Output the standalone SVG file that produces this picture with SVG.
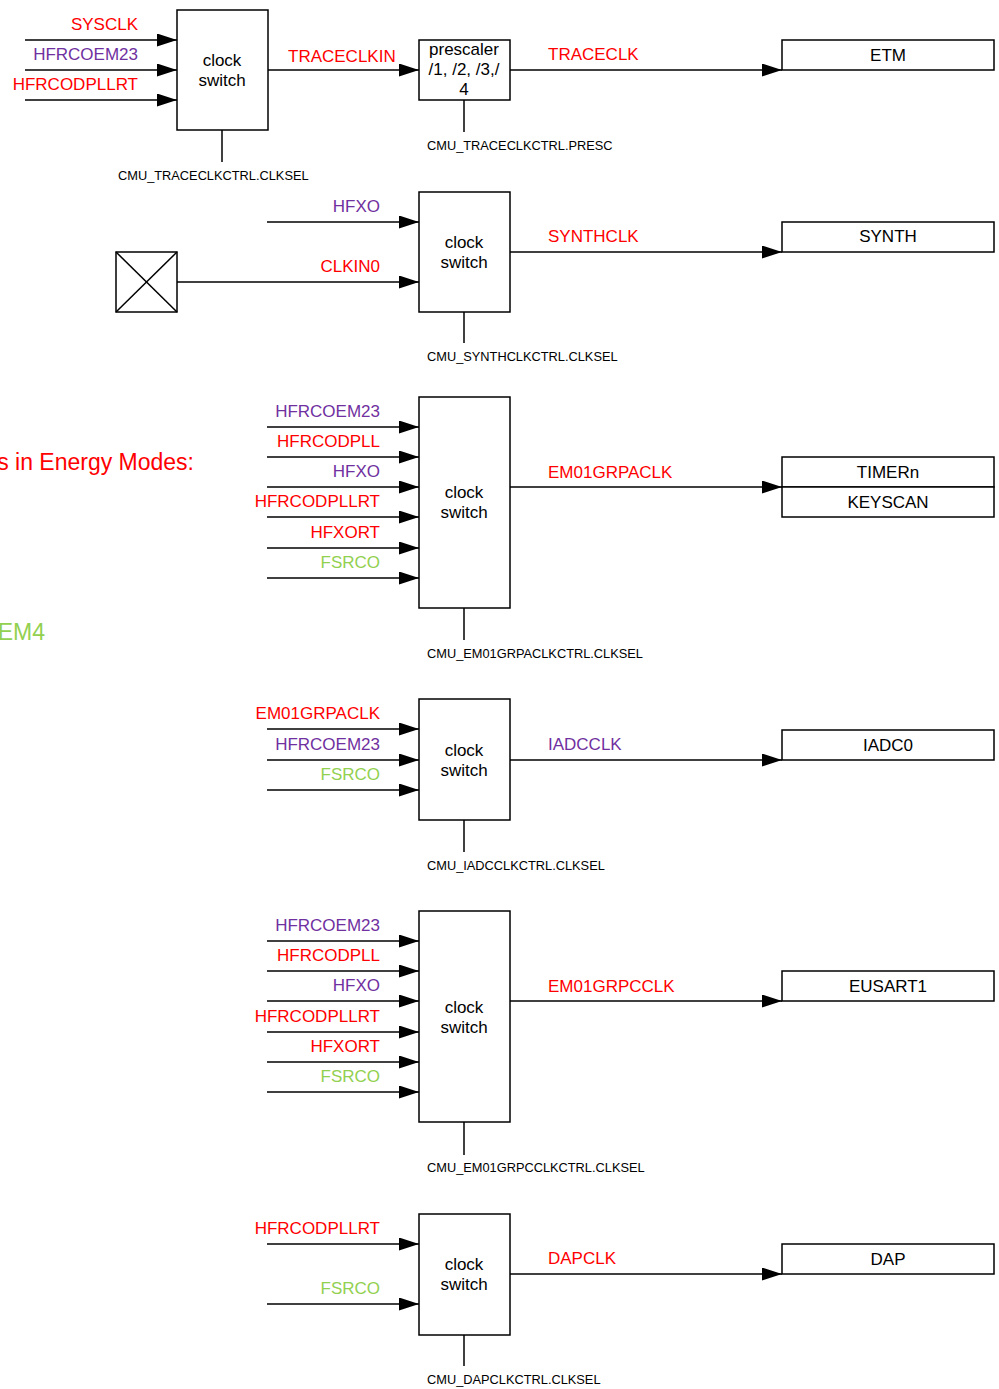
<svg xmlns="http://www.w3.org/2000/svg" width="999" height="1389" viewBox="0 0 999 1389">
<style>
text{font-family:"Liberation Sans",Arial,sans-serif;}
.box{fill:#fff;stroke:#000;stroke-width:1.5;}
.ln{stroke:#000;stroke-width:1.5;fill:none;}
.ar{marker-end:url(#ah);}
.in{font-size:17px;text-anchor:end;}
.out{font-size:17px;}
.ctr{font-size:17px;text-anchor:middle;fill:#000;}
.sm{font-size:12.8px;fill:#000;}
.big{font-size:23px;}
.r{fill:#FF0000;}
.p{fill:#7030A0;}
.g{fill:#92D050;}
</style>
<defs>
<marker id="ah" markerUnits="userSpaceOnUse" markerWidth="20" markerHeight="13" viewBox="0 0 20 13" refX="20" refY="6.5" orient="auto">
<path d="M0,0 L20,6.5 L0,13 Z" fill="#000"/>
</marker>
</defs>
<rect width="999" height="1389" fill="#fff"/>

<g id="legend">
<text class="big r" x="194" y="470" text-anchor="end">s in Energy Modes:</text>
<text class="big g" x="45" y="640" text-anchor="end">EM4</text>
</g>

<g id="connectors">
<!-- section 1 -->
<line class="ln ar" x1="25" y1="40" x2="177" y2="40"/>
<line class="ln ar" x1="25" y1="70" x2="177" y2="70"/>
<line class="ln ar" x1="25" y1="100" x2="177" y2="100"/>
<line class="ln ar" x1="268" y1="70" x2="419" y2="70"/>
<line class="ln ar" x1="510" y1="70" x2="782" y2="70"/>
<line class="ln" x1="222" y1="130" x2="222" y2="162"/>
<line class="ln" x1="464" y1="100" x2="464" y2="132"/>
<!-- section 2 -->
<line class="ln ar" x1="267" y1="222" x2="419" y2="222"/>
<line class="ln ar" x1="177" y1="282" x2="419" y2="282"/>
<line class="ln ar" x1="510" y1="252" x2="782" y2="252"/>
<line class="ln" x1="464" y1="312" x2="464" y2="343"/>
<!-- section 3 -->
<line class="ln ar" x1="267" y1="427" x2="419" y2="427"/>
<line class="ln ar" x1="267" y1="457" x2="419" y2="457"/>
<line class="ln ar" x1="267" y1="487" x2="419" y2="487"/>
<line class="ln ar" x1="267" y1="517" x2="419" y2="517"/>
<line class="ln ar" x1="267" y1="548" x2="419" y2="548"/>
<line class="ln ar" x1="267" y1="578" x2="419" y2="578"/>
<line class="ln ar" x1="510" y1="487" x2="782" y2="487"/>
<line class="ln" x1="464" y1="608" x2="464" y2="640"/>
<!-- section 4 -->
<line class="ln ar" x1="267" y1="729" x2="419" y2="729"/>
<line class="ln ar" x1="267" y1="760" x2="419" y2="760"/>
<line class="ln ar" x1="267" y1="790" x2="419" y2="790"/>
<line class="ln ar" x1="510" y1="760" x2="782" y2="760"/>
<line class="ln" x1="464" y1="820" x2="464" y2="852"/>
<!-- section 5 -->
<line class="ln ar" x1="267" y1="941" x2="419" y2="941"/>
<line class="ln ar" x1="267" y1="971" x2="419" y2="971"/>
<line class="ln ar" x1="267" y1="1001" x2="419" y2="1001"/>
<line class="ln ar" x1="267" y1="1032" x2="419" y2="1032"/>
<line class="ln ar" x1="267" y1="1062" x2="419" y2="1062"/>
<line class="ln ar" x1="267" y1="1092" x2="419" y2="1092"/>
<line class="ln ar" x1="510" y1="1001" x2="782" y2="1001"/>
<line class="ln" x1="464" y1="1122" x2="464" y2="1155"/>
<!-- section 6 -->
<line class="ln ar" x1="267" y1="1244" x2="419" y2="1244"/>
<line class="ln ar" x1="267" y1="1304" x2="419" y2="1304"/>
<line class="ln ar" x1="510" y1="1274" x2="782" y2="1274"/>
<line class="ln" x1="464" y1="1335" x2="464" y2="1366"/>
</g>

<g id="labels">
<text class="in r" x="138" y="30">SYSCLK</text>
<text class="in p" x="138" y="60">HFRCOEM23</text>
<text class="in r" x="138" y="90">HFRCODPLLRT</text>
<text class="out r" x="288" y="62">TRACECLKIN</text>
<text class="out r" x="548" y="60">TRACECLK</text>
<text class="sm" x="118" y="180">CMU_TRACECLKCTRL.CLKSEL</text>
<text class="sm" x="427" y="150">CMU_TRACECLKCTRL.PRESC</text>

<text class="in p" x="380" y="212">HFXO</text>
<text class="in r" x="380" y="272">CLKIN0</text>
<text class="out r" x="548" y="242">SYNTHCLK</text>
<text class="sm" x="427" y="361">CMU_SYNTHCLKCTRL.CLKSEL</text>

<text class="in p" x="380" y="417">HFRCOEM23</text>
<text class="in r" x="380" y="447">HFRCODPLL</text>
<text class="in p" x="380" y="477">HFXO</text>
<text class="in r" x="380" y="507">HFRCODPLLRT</text>
<text class="in r" x="380" y="538">HFXORT</text>
<text class="in g" x="380" y="568">FSRCO</text>
<text class="out r" x="548" y="478">EM01GRPACLK</text>
<text class="sm" x="427" y="658">CMU_EM01GRPACLKCTRL.CLKSEL</text>

<text class="in r" x="380" y="719">EM01GRPACLK</text>
<text class="in p" x="380" y="750">HFRCOEM23</text>
<text class="in g" x="380" y="780">FSRCO</text>
<text class="out p" x="548" y="750">IADCCLK</text>
<text class="sm" x="427" y="870">CMU_IADCCLKCTRL.CLKSEL</text>

<text class="in p" x="380" y="931">HFRCOEM23</text>
<text class="in r" x="380" y="961">HFRCODPLL</text>
<text class="in p" x="380" y="991">HFXO</text>
<text class="in r" x="380" y="1022">HFRCODPLLRT</text>
<text class="in r" x="380" y="1052">HFXORT</text>
<text class="in g" x="380" y="1082">FSRCO</text>
<text class="out r" x="548" y="992">EM01GRPCCLK</text>
<text class="sm" x="427" y="1172">CMU_EM01GRPCCLKCTRL.CLKSEL</text>

<text class="in r" x="380" y="1234">HFRCODPLLRT</text>
<text class="in g" x="380" y="1294">FSRCO</text>
<text class="out r" x="548" y="1264">DAPCLK</text>
<text class="sm" x="427" y="1384">CMU_DAPCLKCTRL.CLKSEL</text>
</g>

<g id="switch1">
<rect class="box" x="177" y="10" width="91" height="120"/>
<text class="ctr" x="222" y="66">clock</text>
<text class="ctr" x="222" y="86">switch</text>
</g>
<g id="prescaler">
<rect class="box" x="419" y="40" width="91" height="60"/>
<text class="ctr" x="464" y="55">prescaler</text>
<text class="ctr" x="464" y="75">/1, /2, /3,/</text>
<text class="ctr" x="464" y="95">4</text>
</g>
<g id="etm">
<rect class="box" x="782" y="40" width="212" height="30"/>
<text class="ctr" x="888" y="61">ETM</text>
</g>

<g id="clkin0pin">
<rect class="box" x="116" y="252" width="61" height="60"/>
<line class="ln" x1="116" y1="252" x2="177" y2="312"/>
<line class="ln" x1="177" y1="252" x2="116" y2="312"/>
</g>
<g id="switch2">
<rect class="box" x="419" y="192" width="91" height="120"/>
<text class="ctr" x="464" y="248">clock</text>
<text class="ctr" x="464" y="268">switch</text>
</g>
<g id="synth">
<rect class="box" x="782" y="222" width="212" height="30"/>
<text class="ctr" x="888" y="242">SYNTH</text>
</g>

<g id="switch3">
<rect class="box" x="419" y="397" width="91" height="211"/>
<text class="ctr" x="464" y="498">clock</text>
<text class="ctr" x="464" y="518">switch</text>
</g>
<g id="timern">
<rect class="box" x="782" y="457" width="212" height="30"/>
<text class="ctr" x="888" y="478">TIMERn</text>
</g>
<g id="keyscan">
<rect class="box" x="782" y="487" width="212" height="30"/>
<text class="ctr" x="888" y="508">KEYSCAN</text>
</g>

<g id="switch4">
<rect class="box" x="419" y="699" width="91" height="121"/>
<text class="ctr" x="464" y="756">clock</text>
<text class="ctr" x="464" y="776">switch</text>
</g>
<g id="iadc0">
<rect class="box" x="782" y="730" width="212" height="30"/>
<text class="ctr" x="888" y="751">IADC0</text>
</g>

<g id="switch5">
<rect class="box" x="419" y="911" width="91" height="211"/>
<text class="ctr" x="464" y="1013">clock</text>
<text class="ctr" x="464" y="1033">switch</text>
</g>
<g id="eusart1">
<rect class="box" x="782" y="971" width="212" height="30"/>
<text class="ctr" x="888" y="992">EUSART1</text>
</g>

<g id="switch6">
<rect class="box" x="419" y="1214" width="91" height="121"/>
<text class="ctr" x="464" y="1270">clock</text>
<text class="ctr" x="464" y="1290">switch</text>
</g>
<g id="dap">
<rect class="box" x="782" y="1244" width="212" height="30"/>
<text class="ctr" x="888" y="1265">DAP</text>
</g>
</svg>
